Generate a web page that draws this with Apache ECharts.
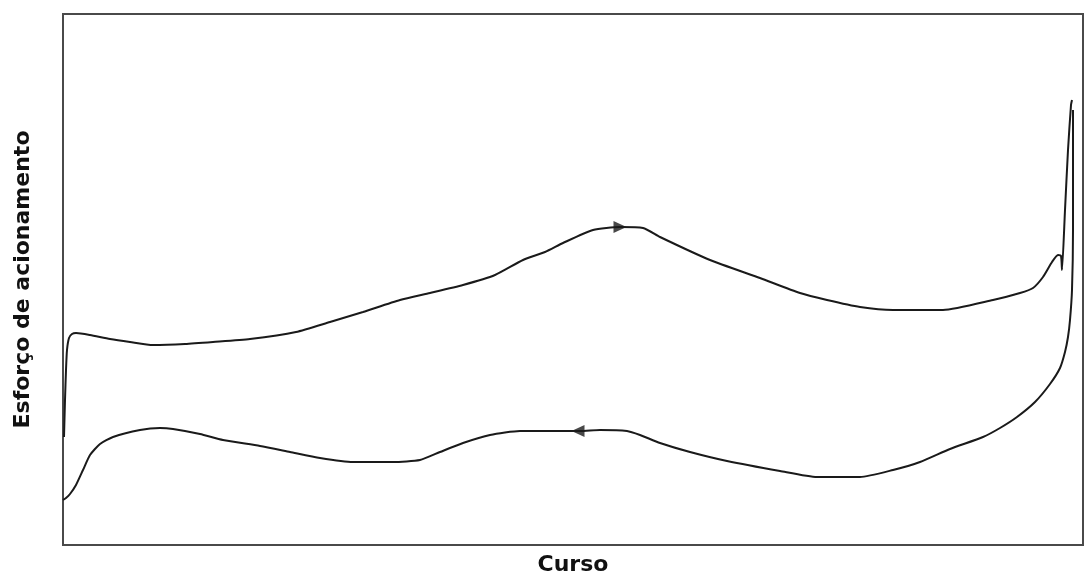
<!DOCTYPE html>
<html>
<head>
<meta charset="utf-8">
<script src="https://cdn.jsdelivr.net/npm/echarts@6/dist/echarts.min.js"></script>
<style>html,body{margin:0;padding:0;background:#fff;}#chart{width:1088px;height:575px;}</style>
</head>
<body>
<div id="chart"></div>
<script>
// Upper branch (advance stroke) - Curso vs Esforço (arbitrary units)
const upperX = [1,2,3,4,6,9,13,27,47,67,90,122,150,187,233,267,300,337,367,400,432,460,482,500,530,557,580,597,647,697,737,764,797,830,880,930,957,970,980,989,995,998,999,1002,1005,1008,1009];
const upperY = [108,145,175,195,207,211,212,210,206,203,200,201,203,206,213,223,233,245,252,260,270,285,293,302,315,318,317,308,285,267,252,245,238,235,235,245,252,257,268,283,290,289,275,335,395,440,445];
// Lower branch (return stroke)
const lowerX = [1010,1010,1010,1009,1007,1005,1002,997,987,972,954,937,920,887,857,830,797,754,717,664,627,597,577,564,537,517,477,457,427,400,377,357,330,290,257,227,197,160,137,110,97,77,50,37,27,20,13,7,3,0];
const lowerY = [435,375,315,255,225,208,193,177,161,143,128,117,108,96,83,75,68,68,74,84,93,102,110,114,115,114,114,114,110,102,93,85,83,83,87,93,99,105,111,116,117,115,108,101,90,75,60,51,47,45];
// Direction arrows
const arrowRight = [557, 318];
const arrowLeft = [515, 114];

const xName = 'Curso';
const yName = 'Esforço de acionamento';

const zip = (xs, ys) => xs.map((x, i) => [x, ys[i]]);
const chart = echarts.init(document.getElementById('chart'), null, {renderer: 'canvas'});
const lineStyle = {color: '#1a1a1a', width: 2};
const nameStyle = {fontFamily: 'DejaVu Sans', fontWeight: 'bold', fontSize: 22, color: '#111'};
chart.setOption({
  animation: false,
  backgroundColor: '#fff',
  grid: {left: 63, right: 5, top: 14, bottom: 30, containLabel: false, outerBoundsMode: 'none',
         show: true, borderColor: '#4a4a4a', borderWidth: 2, backgroundColor: 'transparent'},
  xAxis: {
    type: 'value', min: 0, max: 1020,
    name: xName, nameLocation: 'middle', nameGap: 9,
    nameTextStyle: nameStyle,
    axisLine: {show: false}, axisTick: {show: false}, axisLabel: {show: false}, splitLine: {show: false}
  },
  yAxis: {
    type: 'value', min: 0, max: 531,
    name: yName, nameLocation: 'middle', nameGap: 29,
    nameTextStyle: nameStyle,
    axisLine: {show: false}, axisTick: {show: false}, axisLabel: {show: false}, splitLine: {show: false}
  },
  series: [
    {type: 'line', data: zip(upperX, upperY), showSymbol: false, smooth: 0.2, lineStyle: lineStyle},
    {type: 'line', data: zip(lowerX, lowerY), showSymbol: false, smooth: 0.2, lineStyle: lineStyle},
    {type: 'scatter', data: [arrowRight], symbol: 'path://M0,0 L10,5 L0,10 Z', symbolSize: [13, 12], itemStyle: {color: '#1a1a1a'}},
    {type: 'scatter', data: [arrowLeft], symbol: 'path://M0,0 L10,5 L0,10 Z', symbolRotate: 180, symbolSize: [13, 12], itemStyle: {color: '#1a1a1a'}}
  ]
});
</script>
</body>
</html>
